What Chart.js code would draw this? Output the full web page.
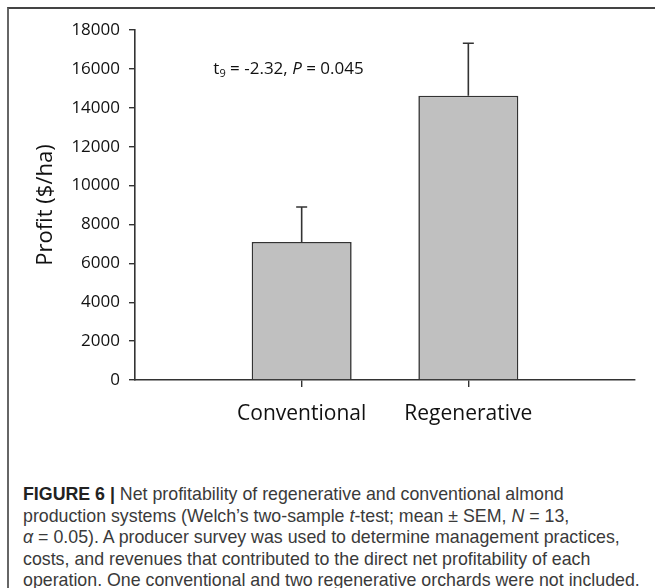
<!DOCTYPE html>
<html>
<head>
<meta charset="utf-8">
<script src="https://cdn.jsdelivr.net/npm/chart.js@4/dist/chart.umd.min.js"></script>
<style>
  body { margin: 0; background: #fff; }
  #wrap { position: relative; width: 655px; height: 588px; overflow: hidden; }
  #frame { position: absolute; left: 7px; top: 7px; width: 660px; height: 600px;
           border-left: 2px solid #666; border-top: 2px solid #444; }
  #myChart { position: absolute; left: 0; top: 0; }
  #caption { position: absolute; left: 23px; top: 484px; width: 630px;
             font-family: "Liberation Sans", Arial, sans-serif; font-size: 17.8px;
             line-height: 21.6px; color: #3a3a3a; white-space: nowrap; }
  #caption b { color: #222; }
</style>
</head>
<body>
<div id="wrap">
  <div id="frame"></div>
  <canvas id="myChart" width="655" height="440"></canvas>
  <div id="caption">
    <b>FIGURE 6 |</b> Net profitability of regenerative and conventional almond<br>
    production systems (Welch’s two-sample <i>t</i>-test; mean ± SEM, <i>N</i> = 13,<br>
    <i>α</i> = 0.05). A producer survey was used to determine management practices,<br>
    costs, and revenues that contributed to the direct net profitability of each<br>
    operation. One conventional and two regenerative orchards were not included.
  </div>
</div>
<script>
function $(id) {
  return document.getElementById(id);
}

// data
const categories = ["", "Conventional", "Regenerative", ""];
const profit = [null, 7100, 14620, null];
const sem = [null, 1800, 2700, null];
const yTicks = [0, 2000, 4000, 6000, 8000, 10000, 12000, 14000, 16000, 18000];

const FONT = "'Open Sans', 'DejaVu Sans', sans-serif";

// error bars (upper half only, like the excel original)
const errorBars = {
  id: "errorBars",
  afterDatasetsDraw(chart) {
    const ctx = chart.ctx;
    const y = chart.scales.y;
    const meta = chart.getDatasetMeta(0);
    ctx.save();
    ctx.strokeStyle = "#333";
    ctx.lineWidth = 1.6;
    meta.data.forEach((bar, i) => {
      if (profit[i] == null) return;
      const top = y.getPixelForValue(profit[i] + sem[i]);
      ctx.beginPath();
      ctx.moveTo(bar.x, bar.y);
      ctx.lineTo(bar.x, top);
      ctx.moveTo(bar.x - 5.5, top);
      ctx.lineTo(bar.x + 5.5, top);
      ctx.stroke();
    });
    ctx.restore();
  }
};

// t-test label
const statLabel = {
  id: "statLabel",
  afterDraw(chart) {
    const ctx = chart.ctx;
    let x = chart.scales.x.getPixelForValue(0.47);
    const y = chart.scales.y.getPixelForValue(16000);
    const parts = [
      { t: "t", f: "17px " + FONT, dy: 0 },
      { t: "9", f: "11px " + FONT, dy: 5 },
      { t: " = -2.32, ", f: "17px " + FONT, dy: 0 },
      { t: "P", f: "italic 17px " + FONT, dy: 0 },
      { t: " = 0.045", f: "17px " + FONT, dy: 0 }
    ];
    ctx.save();
    ctx.fillStyle = "#111";
    ctx.textBaseline = "middle";
    ctx.textAlign = "left";
    parts.forEach(p => {
      ctx.font = p.f;
      ctx.fillText(p.t, x, y + p.dy);
      x += ctx.measureText(p.t).width;
    });
    ctx.restore();
  }
};

window.onload = function() {
  const ctx = $("myChart").getContext("2d");
  new Chart(ctx, {
    type: "bar",
    data: {
      labels: categories,
      datasets: [{
        data: profit,
        backgroundColor: "#c0c0c0",
        borderColor: "#333",
        borderWidth: 1.6,
        categoryPercentage: 0.6,
        barPercentage: 1
      }]
    },
    options: {
      responsive: false,
      animation: false,
      layout: { padding: { left: 0, right: 20, top: 30, bottom: 0 } },
      plugins: {
        legend: { display: false },
        tooltip: { enabled: false }
      },
      scales: {
        x: {
          offset: false,
          grid: {
            offset: false,
            drawOnChartArea: false,
            drawTicks: true,
            tickLength: 7,
            lineWidth: 1.4,
            color: c => (c.tick && c.tick.label) ? "#333" : "rgba(0,0,0,0)"
          },
          border: { color: "#333", width: 1.6 },
          ticks: {
            color: "#111",
            padding: 14,
            maxRotation: 0,
            autoSkip: false,
            font: { family: FONT, size: 21 }
          },
          afterFit: s => { s.height = 60; }
        },
        y: {
          min: 0,
          max: 18000,
          afterBuildTicks: s => { s.ticks = yTicks.map(v => ({ value: v })); },
          grid: {
            drawOnChartArea: false,
            drawTicks: true,
            tickLength: 6,
            lineWidth: 1.4,
            color: "#333"
          },
          border: { color: "#333", width: 1.6 },
          ticks: {
            color: "#111",
            padding: 9,
            font: { family: FONT, size: 17 },
            callback: v => String(v)
          },
          title: {
            display: true,
            text: "Profit ($/ha)",
            color: "#111",
            font: { family: FONT, size: 22 },
            padding: { top: 33, bottom: 0 }
          },
          afterFit: s => { s.width = 135; }
        }
      }
    },
    plugins: [errorBars, statLabel]
  });
};
</script>
</body>
</html>
